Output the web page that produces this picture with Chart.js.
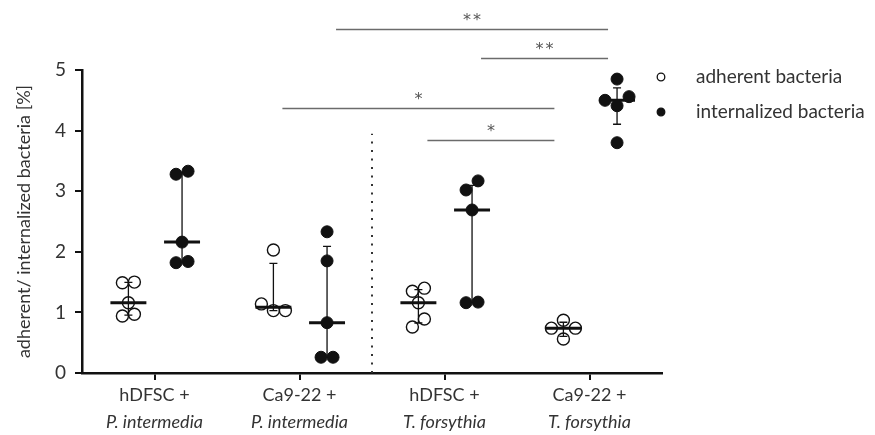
<!DOCTYPE html>
<html>
<head>
<meta charset="utf-8">
<script src="https://cdn.jsdelivr.net/npm/chart.js@4.4.1/dist/chart.umd.min.js"></script>
<style>
  html, body { margin: 0; padding: 0; background: #fff; }
  #wrap { width: 875px; height: 435px; }
</style>
</head>
<body>
<div id="wrap"><canvas id="myChart"></canvas></div>
<script>
// categories (two-line labels, 2nd line italic)
const groupHost = ['hDFSC +', 'Ca9-22 +', 'hDFSC +', 'Ca9-22 +'];
const groupBacterium = ['P. intermedia', 'P. intermedia', 'T. forsythia', 'T. forsythia'];
const yTicks = [0, 1, 2, 3, 4, 5];

// values per group (%)
const adherent = [
  [1.49, 1.50, 1.16, 0.94, 0.97],
  [2.03, 1.03, 1.03, 1.14],
  [1.35, 1.40, 1.16, 0.76, 0.89],
  [0.87, 0.56, 0.74, 0.74]
];
const internalized = [
  [3.28, 3.33, 2.16, 1.82, 1.84],
  [2.33, 1.85, 0.83, 0.26, 0.26],
  [3.02, 3.17, 2.69, 1.16, 1.17],
  [4.85, 4.41, 4.56, 4.50, 3.80]
];

// significance brackets
const sigLabels = ['**', '**', '*', '*'];
const sigLevels = [5.68, 5.20, 4.37, 3.84];
const sigFrom = [[1, 'internalized'], [2, 'internalized'], [1, 'adherent'], [2, 'adherent']];
const sigTo = [[3, 'internalized'], [3, 'internalized'], [3, 'adherent'], [3, 'adherent']];
const dividerTop = 3.95;

// layout stuff
const seriesOffset = { adherent: -0.18, internalized: 0.19 };
const pxPerCat = 145, pxPerUnit = 60.6;
const FONT = "Lato, 'Open Sans', sans-serif";
const INK = '#111';
const TXT = '#333';

Chart.defaults.font.family = FONT;

function quantile(sorted, p) {
  const pos = (sorted.length + 1) * p;
  const lo = Math.floor(pos), frac = pos - lo;
  if (lo < 1) return sorted[0];
  if (lo >= sorted.length) return sorted[sorted.length - 1];
  return sorted[lo - 1] + frac * (sorted[lo] - sorted[lo - 1]);
}

// simple beeswarm so overlapping dots sit side by side (px based)
function swarm(values) {
  const cands = [0, 6, -6, 12, -12, 18, -18, 24, -24];
  const placed = [];
  values.forEach(v => {
    for (const dx of cands) {
      const ok = placed.every(p => Math.hypot(p.dx - dx, (p.v - v) * pxPerUnit) >= 12);
      if (ok) { placed.push({ v, dx }); break; }
    }
  });
  // recentre rows of touching dots
  const comp = placed.map((_, i) => i);
  const find = i => comp[i] === i ? i : (comp[i] = find(comp[i]));
  for (let i = 0; i < placed.length; i++)
    for (let j = i + 1; j < placed.length; j++)
      if (Math.abs(placed[i].v - placed[j].v) * pxPerUnit < 10) comp[find(j)] = find(i);
  const sums = {};
  placed.forEach((p, i) => {
    const r = find(i);
    sums[r] = sums[r] || { s: 0, n: 0 };
    sums[r].s += p.dx; sums[r].n++;
  });
  return placed.map((p, i) => {
    const r = sums[find(i)];
    return (p.dx - r.s / r.n) / pxPerCat;
  });
}

function toPoints(groups, name) {
  const pts = [];
  groups.forEach((vals, i) => {
    const jit = swarm(vals);
    vals.forEach((v, k) => pts.push({ x: i + seriesOffset[name] + jit[k], y: v }));
  });
  return pts;
}

const summaryPlugin = {
  id: 'summary',
  beforeDatasetsDraw(chart) {
    const { ctx, scales: { x, y } } = chart;
    ctx.save();
    ctx.strokeStyle = INK;
    [['adherent', adherent], ['internalized', internalized]].forEach(([name, groups]) => {
      groups.forEach((vals, i) => {
        const s = vals.slice().sort((a, b) => a - b);
        const q1 = quantile(s, 0.25), med = quantile(s, 0.5), q3 = quantile(s, 0.75);
        const cx = x.getPixelForValue(i + seriesOffset[name]);
        ctx.lineWidth = 1.3;
        ctx.beginPath();
        ctx.moveTo(cx, y.getPixelForValue(q1));
        ctx.lineTo(cx, y.getPixelForValue(q3));
        [q1, q3].forEach(q => {
          ctx.moveTo(cx - 4, y.getPixelForValue(q));
          ctx.lineTo(cx + 4, y.getPixelForValue(q));
        });
        ctx.stroke();
        ctx.lineWidth = 3;
        ctx.beginPath();
        ctx.moveTo(x.getPixelForValue(i + seriesOffset[name] - 0.124), y.getPixelForValue(med));
        ctx.lineTo(x.getPixelForValue(i + seriesOffset[name] + 0.124), y.getPixelForValue(med));
        ctx.stroke();
      });
    });
    // dotted divider between P. intermedia and T. forsythia
    const dx = x.getPixelForValue(1.5);
    ctx.strokeStyle = '#333';
    ctx.lineWidth = 2;
    ctx.setLineDash([2, 6.5]);
    ctx.beginPath();
    ctx.moveTo(dx, y.getPixelForValue(0));
    ctx.lineTo(dx, y.getPixelForValue(dividerTop));
    ctx.stroke();
    ctx.restore();
  }
};

const decorPlugin = {
  id: 'decor',
  afterDraw(chart) {
    const { ctx, chartArea, scales: { x, y } } = chart;
    ctx.save();
    // significance bars
    sigLabels.forEach((lab, k) => {
      const x1 = x.getPixelForValue(sigFrom[k][0] + seriesOffset[sigFrom[k][1]]) + 9;
      const x2 = x.getPixelForValue(sigTo[k][0] + seriesOffset[sigTo[k][1]]) - 9;
      const yy = Math.round(y.getPixelForValue(sigLevels[k])) + 0.5;
      ctx.strokeStyle = '#6b6b6b';
      ctx.lineWidth = 1.5;
      ctx.beginPath();
      ctx.moveTo(x1, yy);
      ctx.lineTo(x2, yy);
      ctx.stroke();
      ctx.fillStyle = '#555';
      ctx.font = "16px 'DejaVu Sans', sans-serif";
      ctx.textAlign = 'center';
      ctx.textBaseline = 'alphabetic';
      const mid = (x1 + x2) / 2;
      const n = lab.length;
      for (let j = 0; j < n; j++) {
        ctx.fillText('*', mid + (j - (n - 1) / 2) * 10, yy - 5);
      }
    });
    // x category labels
    ctx.fillStyle = TXT;
    ctx.textAlign = 'center';
    ctx.textBaseline = 'middle';
    groupHost.forEach((h, i) => {
      const cx = x.getPixelForValue(i);
      ctx.font = '18px ' + FONT;
      ctx.fillText(h, cx, chartArea.bottom + 22);
      ctx.font = 'italic 18px ' + FONT;
      ctx.fillText(groupBacterium[i], cx, chartArea.bottom + 49);
    });
    // legend
    const lx = chartArea.right - 1;
    const items = [['adherent bacteria', false], ['internalized bacteria', true]];
    items.forEach(([label, filled], k) => {
      const ly = chartArea.top + 7 + k * 35;
      ctx.beginPath();
      ctx.arc(lx, ly, 3.8, 0, Math.PI * 2);
      ctx.lineWidth = 1.3;
      ctx.strokeStyle = INK;
      if (filled) { ctx.fillStyle = INK; ctx.fill(); }
      ctx.stroke();
      ctx.fillStyle = TXT;
      ctx.font = '19px ' + FONT;
      ctx.textAlign = 'left';
      ctx.textBaseline = 'middle';
      ctx.fillText(label, lx + 35, ly);
    });
    ctx.restore();
  }
};

const axisGrid = { display: true, drawOnChartArea: false, drawTicks: true, tickLength: 7, color: INK, lineWidth: 2 };
const axisBorder = { display: true, color: INK, width: 2.5 };

new Chart(document.getElementById('myChart'), {
  type: 'scatter',
  data: {
    datasets: [{
      label: 'adherent bacteria',
      data: toPoints(adherent, 'adherent'),
      pointRadius: 6,
      pointBorderWidth: 1.4,
      borderColor: INK,
      backgroundColor: 'rgba(0,0,0,0)'
    }, {
      label: 'internalized bacteria',
      data: toPoints(internalized, 'internalized'),
      pointRadius: 6,
      pointBorderWidth: 1,
      borderColor: INK,
      backgroundColor: INK
    }]
  },
  options: {
    responsive: true,
    maintainAspectRatio: false,
    animation: false,
    layout: { padding: { left: 0, top: 70, right: 213, bottom: 0 } },
    plugins: { legend: { display: false }, tooltip: { enabled: false } },
    scales: {
      x: {
        type: 'linear', min: -0.5, max: 3.5,
        afterBuildTicks: s => { s.ticks = groupHost.map((_, i) => ({ value: i })); },
        ticks: { display: false },
        grid: axisGrid,
        border: axisBorder,
        afterFit: s => { s.height = 62; }
      },
      y: {
        min: 0, max: 5,
        afterBuildTicks: s => { s.ticks = yTicks.map(v => ({ value: v })); },
        ticks: { color: TXT, font: { size: 19 }, padding: 9 },
        grid: axisGrid,
        border: axisBorder,
        title: { display: true, text: 'adherent/ internalized bacteria [%]', color: TXT, font: { size: 18 }, padding: { top: 13, bottom: 0 } },
        afterFit: s => { s.width = 82; }
      }
    }
  },
  plugins: [summaryPlugin, decorPlugin]
});
</script>
</body>
</html>
